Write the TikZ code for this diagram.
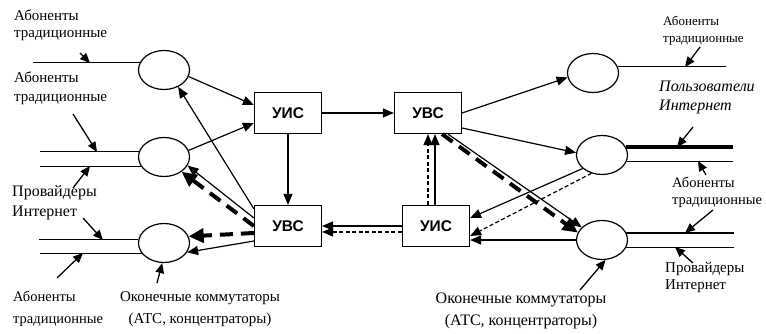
\documentclass[tikz,border=0pt]{standalone}
\usepackage{fontspec}
\setmainfont{Liberation Serif}
\newfontfamily\boxfont{Liberation Sans}
\usetikzlibrary{shapes.geometric,arrows.meta}
\begin{document}
\begin{tikzpicture}[x=1pt,y=-1pt,
  ell/.style={draw,ellipse,line width=1.2pt,minimum width=51pt,minimum height=39pt,inner sep=0pt},
  sw/.style={draw,rectangle,line width=1.2pt,minimum width=67pt,minimum height=41pt,inner sep=0pt,font=\boxfont\bfseries\fontsize{15.5}{15}\selectfont},
  conn/.style={line width=1.2pt,-{Triangle[length=11pt,width=9pt]}},
  dconn/.style={conn,dash pattern=on 4pt off 2.5pt},
  tconn/.style={line width=4pt,dash pattern=on 13pt off 8pt,-{Triangle[length=15pt,width=14pt]}},
  lab/.style={align=left,anchor=west,inner sep=0pt},
  ln/.style={line width=1.2pt},
  la/.style={line width=1.3pt,-{Triangle[length=10pt,width=8.5pt]}}
]
\useasboundingbox (0,0) rectangle (766,334);

% switches (ellipses)
\node[ell] (L1) at (164,70) {};
\node[ell] (L2) at (164,157) {};
\node[ell] (L3) at (164,243) {};
\node[ell] (R1) at (593,73) {};
\node[ell] (R2) at (602,155) {};
\node[ell] (R3) at (602,240) {};

% boxes
\node[sw] (A) at (288,113) {УИС};
\node[sw] (B) at (428,113) {УВС};
\node[sw] (C) at (288,226) {УВС};
\node[sw] (D) at (436,226) {УИС};

% subscriber lines
\draw[ln] (L1.163.5) -- ++(-107,0);
\draw[ln] (L2.168) -- ++(-99,0);
\draw[ln] (L2.202) -- ++(-101,0);
\draw[ln] (L3.173) -- ++(-99,0);
\draw[ln] (L3.205) -- ++(-102,0);
\draw[ln] (R1.14) -- ++(108,0);
\draw[line width=3.8pt] (R2.19) -- ++(107,0);
\draw[ln] (R2.346) -- ++(106,0);
\draw[ln] (R3.16.5) -- ++(108,0);
\draw[ln] (R3.343.5) -- ++(108,0);

% connectors
\draw[conn] (L1.345) -- ([yshift=8pt]A.west);
\draw[conn] (L2.15) -- ([yshift=-10pt]A.west);
\draw[conn] ([yshift=-4pt]C.north west) -- (L1.310);
\draw[conn] ([yshift=8pt]C.west) -- (L2.340);
\draw[tconn] (C.west) -- (L2.320);
\draw[tconn] ([yshift=-7pt]C.west) -- (L3.15);
\draw[conn] ([yshift=-15pt]C.west) -- (L3.338);
\draw[conn] (A.south) -- (C.north);
\draw[conn] (A.east) -- (B.west);
\draw[conn] (D.west) -- (C.east);
\draw[dconn] ([yshift=-6pt]D.west) -- ([yshift=-6pt]C.east);
\draw[conn] ([xshift=-1pt]D.north) -- ([xshift=7pt]B.south);
\draw[dconn] ([xshift=-8pt]D.north) -- (B.south);
\draw[conn] (B.east) -- (R1.190);
\draw[conn] ([yshift=-15pt]B.east) -- (R2.175);
\draw[conn] ([xshift=20pt]B.south) -- (R3.148);
\draw[tconn] ([xshift=14pt]B.south) -- (R3.163);
\draw[conn] (R2.215) -- ([yshift=8pt]D.east);
\draw[dconn] (R2.240) -- ([yshift=-10pt]D.east);
\draw[conn] (R3.180) -- ([yshift=-14pt]D.east);

% labels
\node[lab,font=\fontsize{15}{17}\selectfont] (t1) at (14,25) {Абоненты\\традиционные};
\node[lab,font=\fontsize{15}{19}\selectfont] (t2) at (14,88) {Абоненты\\традиционные};
\node[lab,font=\fontsize{16}{20}\selectfont] (t3) at (12,203) {Провайдеры\\Интернет};
\node[lab,font=\fontsize{14.5}{22}\selectfont] (t4) at (13,309) {Абоненты\\традиционные};
\node[align=center,inner sep=0pt,font=\fontsize{15}{22}\selectfont] (t5) at (200,309) {Оконечные коммутаторы\\(АТС, концентраторы)};
\node[lab,font=\fontsize{13}{17}\selectfont] (t6) at (663,31) {Абоненты\\традиционные};
\node[lab,font=\itshape\fontsize{16}{19}\selectfont] (t7) at (659,97) {Пользователи\\Интернет};
\node[lab,font=\fontsize{14.5}{17}\selectfont] (t8) at (672,192) {Абоненты\\традиционные};
\node[lab,font=\fontsize{15}{17}\selectfont] (t9) at (665,277) {Провайдеры\\Интернет};
\node[align=center,inner sep=0pt,font=\fontsize{16}{22}\selectfont] (t10) at (521,311) {Оконечные коммутаторы\\(АТС, концентраторы)};

% label pointers
\coordinate (a1s) at (80,53);   \coordinate (a1e) at (90,63);
\coordinate (a2s) at (73,114);  \coordinate (a2e) at (97,152);
\coordinate (a3s) at (73,188);  \coordinate (a3e) at (90,166);
\coordinate (a4s) at (83,218);  \coordinate (a4e) at (103,240);
\coordinate (a5s) at (57,278);  \coordinate (a5e) at (83,253);
\coordinate (a6s) at (157,283);
\coordinate (a7s) at (700,47);  \coordinate (a7e) at (685,67);
\coordinate (a8s) at (693,127); \coordinate (a8e) at (677,147);
\coordinate (a9s) at (706,175); \coordinate (a9e) at (698,161);
\coordinate (a10s) at (713,210); \coordinate (a10e) at (685,233);
\coordinate (a11s) at (693,263); \coordinate (a11e) at (675,247);
\coordinate (a12s) at (580,290);
\draw[la] (a1s) -- (a1e);
\draw[la] (a2s) -- (a2e);
\draw[la] (a3s) -- (a3e);
\draw[la] (a4s) -- (a4e);
\draw[la] (a5s) -- (a5e);
\draw[la] (a6s) -- (L3.265);
\draw[la] (a7s) -- (a7e);
\draw[la] (a8s) -- (a8e);
\draw[la] (a9s) -- (a9e);
\draw[la] (a10s) -- (a10e);
\draw[la] (a11s) -- (a11e);
\draw[la] (a12s) -- (R3.280);
\end{tikzpicture}
\end{document}
